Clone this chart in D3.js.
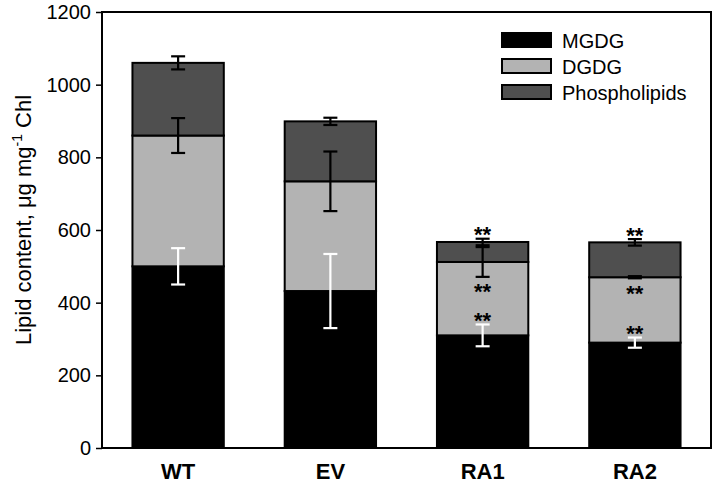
<!DOCTYPE html>
<html><head><meta charset="utf-8">
<script src="https://cdn.jsdelivr.net/npm/d3@7"></script>
<style>body{margin:0;background:#fff;} svg{display:block;font-family:"Liberation Sans",Arial,sans-serif;}</style>
</head><body>
<svg id="c" width="717" height="485"></svg>
<script>
const categories = ["WT","EV","RA1","RA2"];
const seriesNames = ["MGDG","DGDG","Phospholipids"];
const mgdg = [500, 432, 310, 290];
const dgdg = [360, 302, 202, 180];
const phospho = [200, 165, 55, 96];
const mgdgErr = [50, 102, 30, 14];
const dgdgErr = [48, 82, 41, 3];
const phosphoErr = [18, 10, 9, 9];
const mgdgSig = ["", "", "**", "**"];
const dgdgSig = ["", "", "**", "**"];
const phosphoSig = ["", "", "**", "**"];
const yTicks = [0, 200, 400, 600, 800, 1000, 1200];

const fills = ["#000000", "#b3b3b3", "#4f4f4f"];
const errColors = ["#ffffff", "#000000", "#000000"];
const values = [mgdg, dgdg, phospho];
const errs = [mgdgErr, dgdgErr, phosphoErr];
const sigs = [mgdgSig, dgdgSig, phosphoSig];

const svg = d3.select("#c");
const L = 102, R = 711, T = 12, B = 448;
const x = d3.scaleBand().domain(categories).range([L, R]).paddingInner(0.4).paddingOuter(0.2);
const y = d3.scaleLinear().domain([0, 1200]).range([B, T]);

const rows = categories.map((c, i) => ({cat: c, MGDG: mgdg[i], DGDG: dgdg[i], Phospholipids: phospho[i]}));
const stacked = d3.stack().keys(seriesNames)(rows);

// bars
stacked.forEach((layer, si) => {
  svg.append("g").selectAll("rect").data(layer).join("rect")
    .attr("x", d => x(d.data.cat))
    .attr("y", d => y(d[1]))
    .attr("width", x.bandwidth())
    .attr("height", d => y(d[0]) - y(d[1]))
    .attr("fill", fills[si])
    .attr("stroke", "#000").attr("stroke-width", 2);
});

// error bars
const cap = 7;
stacked.forEach((layer, si) => {
  const g = svg.append("g").attr("stroke", errColors[si]).attr("stroke-width", 2.2);
  layer.forEach((d, i) => {
    const cx = x(d.data.cat) + x.bandwidth() / 2;
    const e = errs[si][i];
    const y1 = y(d[1] + e), y2 = y(d[1] - e);
    g.append("line").attr("x1", cx).attr("x2", cx).attr("y1", y1).attr("y2", y2);
    g.append("line").attr("x1", cx - cap).attr("x2", cx + cap).attr("y1", y1).attr("y2", y1);
    g.append("line").attr("x1", cx - cap).attr("x2", cx + cap).attr("y1", y2).attr("y2", y2);
  });
});

// significance stars
stacked.forEach((layer, si) => {
  layer.forEach((d, i) => {
    const s = sigs[si][i];
    if (!s) return;
    const cx = x(d.data.cat) + x.bandwidth() / 2;
    const e = errs[si][i];
    let cy;
    if (si === 1) cy = y(d[1] - e) + 10;
    else cy = y(d[1] + e) - 9;
    svg.append("text").attr("x", cx).attr("y", cy + 12.5)
      .attr("text-anchor", "middle").attr("font-size", 22).attr("font-weight", "bold")
      .attr("fill", "#000").text(s);
  });
});

// frame
svg.append("rect").attr("x", L).attr("y", T).attr("width", R - L).attr("height", B - T)
  .attr("fill", "none").attr("stroke", "#000").attr("stroke-width", 2);

// y axis
const yAxis = svg.append("g").attr("transform", `translate(${L},0)`)
  .call(d3.axisLeft(y).tickValues(yTicks).tickSize(6).tickPadding(5).tickFormat(d3.format("d")));
yAxis.select(".domain").remove();
yAxis.selectAll("line").attr("stroke", "#000").attr("stroke-width", 1.5);
yAxis.selectAll("text").attr("font-size", 20).attr("fill", "#000")
  .attr("font-family", "Liberation Sans, Arial, sans-serif");

// x axis labels
const xAxis = svg.append("g").attr("transform", `translate(0,${B})`)
  .call(d3.axisBottom(x).tickSize(0).tickPadding(0));
xAxis.select(".domain").remove();
xAxis.selectAll("text").attr("font-size", 22).attr("font-weight", "bold").attr("fill", "#000")
  .attr("dy", null).attr("y", 31)
  .attr("font-family", "Liberation Sans, Arial, sans-serif");

// y title
const yt = svg.append("text").attr("transform", "translate(31,220) rotate(-90)")
  .attr("text-anchor", "middle").attr("font-size", 22).attr("fill", "#000");
yt.append("tspan").text("Lipid content, μg mg");
yt.append("tspan").attr("font-size", 14).attr("dy", -9).text("-1");
yt.append("tspan").attr("dy", 9).text(" Chl");

// legend
const lg = svg.append("g").attr("transform", "translate(502,33)");
seriesNames.forEach((n, i) => {
  lg.append("rect").attr("x", 0).attr("y", i * 26).attr("width", 49).attr("height", 14)
    .attr("fill", fills[i]).attr("stroke", "#000").attr("stroke-width", 2);
  lg.append("text").attr("x", 60).attr("y", i * 26 + 14.5).attr("font-size", 20).attr("fill", "#000").text(n);
});
</script>
</body></html>
